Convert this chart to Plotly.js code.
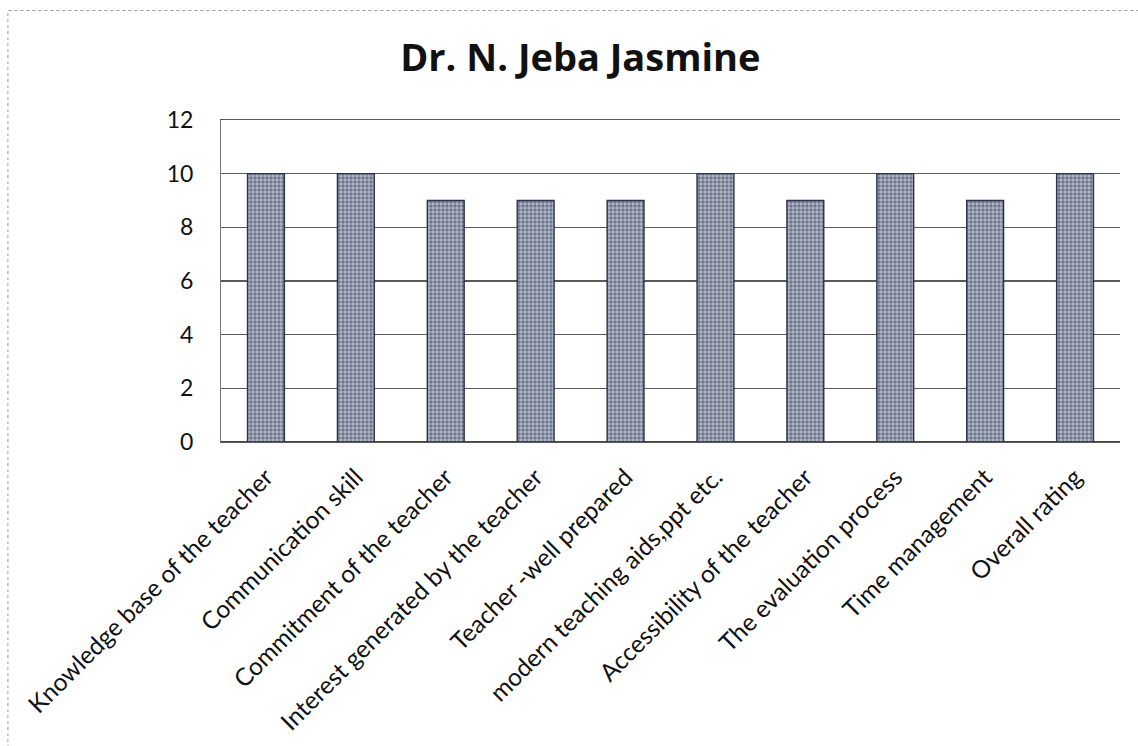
<!DOCTYPE html>
<html>
<head>
<meta charset="utf-8">
<script src="https://cdn.plot.ly/plotly-3.0.1.min.js"></script>
<style>html,body{margin:0;padding:0;background:#fff;}#chart{width:1138px;height:746px;}</style>
</head>
<body>
<div id="chart"></div>
<script>
const categories = [
  "Knowledge base of the teacher",
  "Communication skill",
  "Commitment of the teacher",
  "Interest generated by the teacher",
  "Teacher -well prepared",
  "modern teaching aids,ppt etc.",
  "Accessibility of the teacher",
  "The evaluation process",
  "Time management",
  "Overall rating"
];
const ratings = [10, 10, 9, 9, 9, 10, 9, 10, 9, 10];
const yTicks = [0, 2, 4, 6, 8, 10, 12];
const chartTitle = "Dr. N. Jeba Jasmine";

const trace = {
  type: "bar",
  x: categories,
  y: ratings,
  width: 0.41,
  marker: {
    color: "#9aa0b0",
    line: {color: "#2a3250", width: 1.4},
    pattern: {shape: ".", fgcolor: "#2c3450", bgcolor: "#b3b9c7", size: 4, solidity: 0.55, fillmode: "overlay"}
  },
  hoverinfo: "x+y"
};

const layout = {
  width: 1138,
  height: 746,
  margin: {l: 221, r: 18, t: 120, b: 304},
  paper_bgcolor: "#ffffff",
  plot_bgcolor: "#ffffff",
  showlegend: false,
  font: {family: "Lato, sans-serif", color: "#111"},
  title: {
    text: chartTitle,
    font: {family: "Open Sans, sans-serif", size: 38, color: "#111", weight: "bold"},
    x: 0.51, xref: "container", xanchor: "center",
    y: 0.922, yref: "container", yanchor: "middle"
  },
  xaxis: {
    type: "category",
    tickangle: -45,
    tickfont: {size: 24.5, color: "#111"},
    showgrid: false,
    showline: true,
    mirror: true,
    linecolor: "#5a5a5a",
    linewidth: 1.2,
    ticks: "",
    ticklabelstandoff: 10,
    automargin: false
  },
  yaxis: {
    range: [0, 12],
    tickvals: yTicks,
    tickfont: {size: 23, color: "#111"},
    showgrid: true,
    gridcolor: "#5a5a5a",
    gridwidth: 1.2,
    zeroline: true,
    zerolinecolor: "#444",
    zerolinewidth: 1.3,
    showline: true,
    linecolor: "#777",
    linewidth: 1,
    ticks: "",
    ticklabelstandoff: 22,
    automargin: false
  },
  shapes: [
    {type: "rect", xref: "paper", yref: "paper",
     x0: -0.237, x1: 1.03, y0: -0.95, y1: 1.34,
     line: {color: "#999", width: 1, dash: "dot"}}
  ]
};

Plotly.newPlot("chart", [trace], layout, {displayModeBar: false, staticPlot: true});
</script>
</body>
</html>
